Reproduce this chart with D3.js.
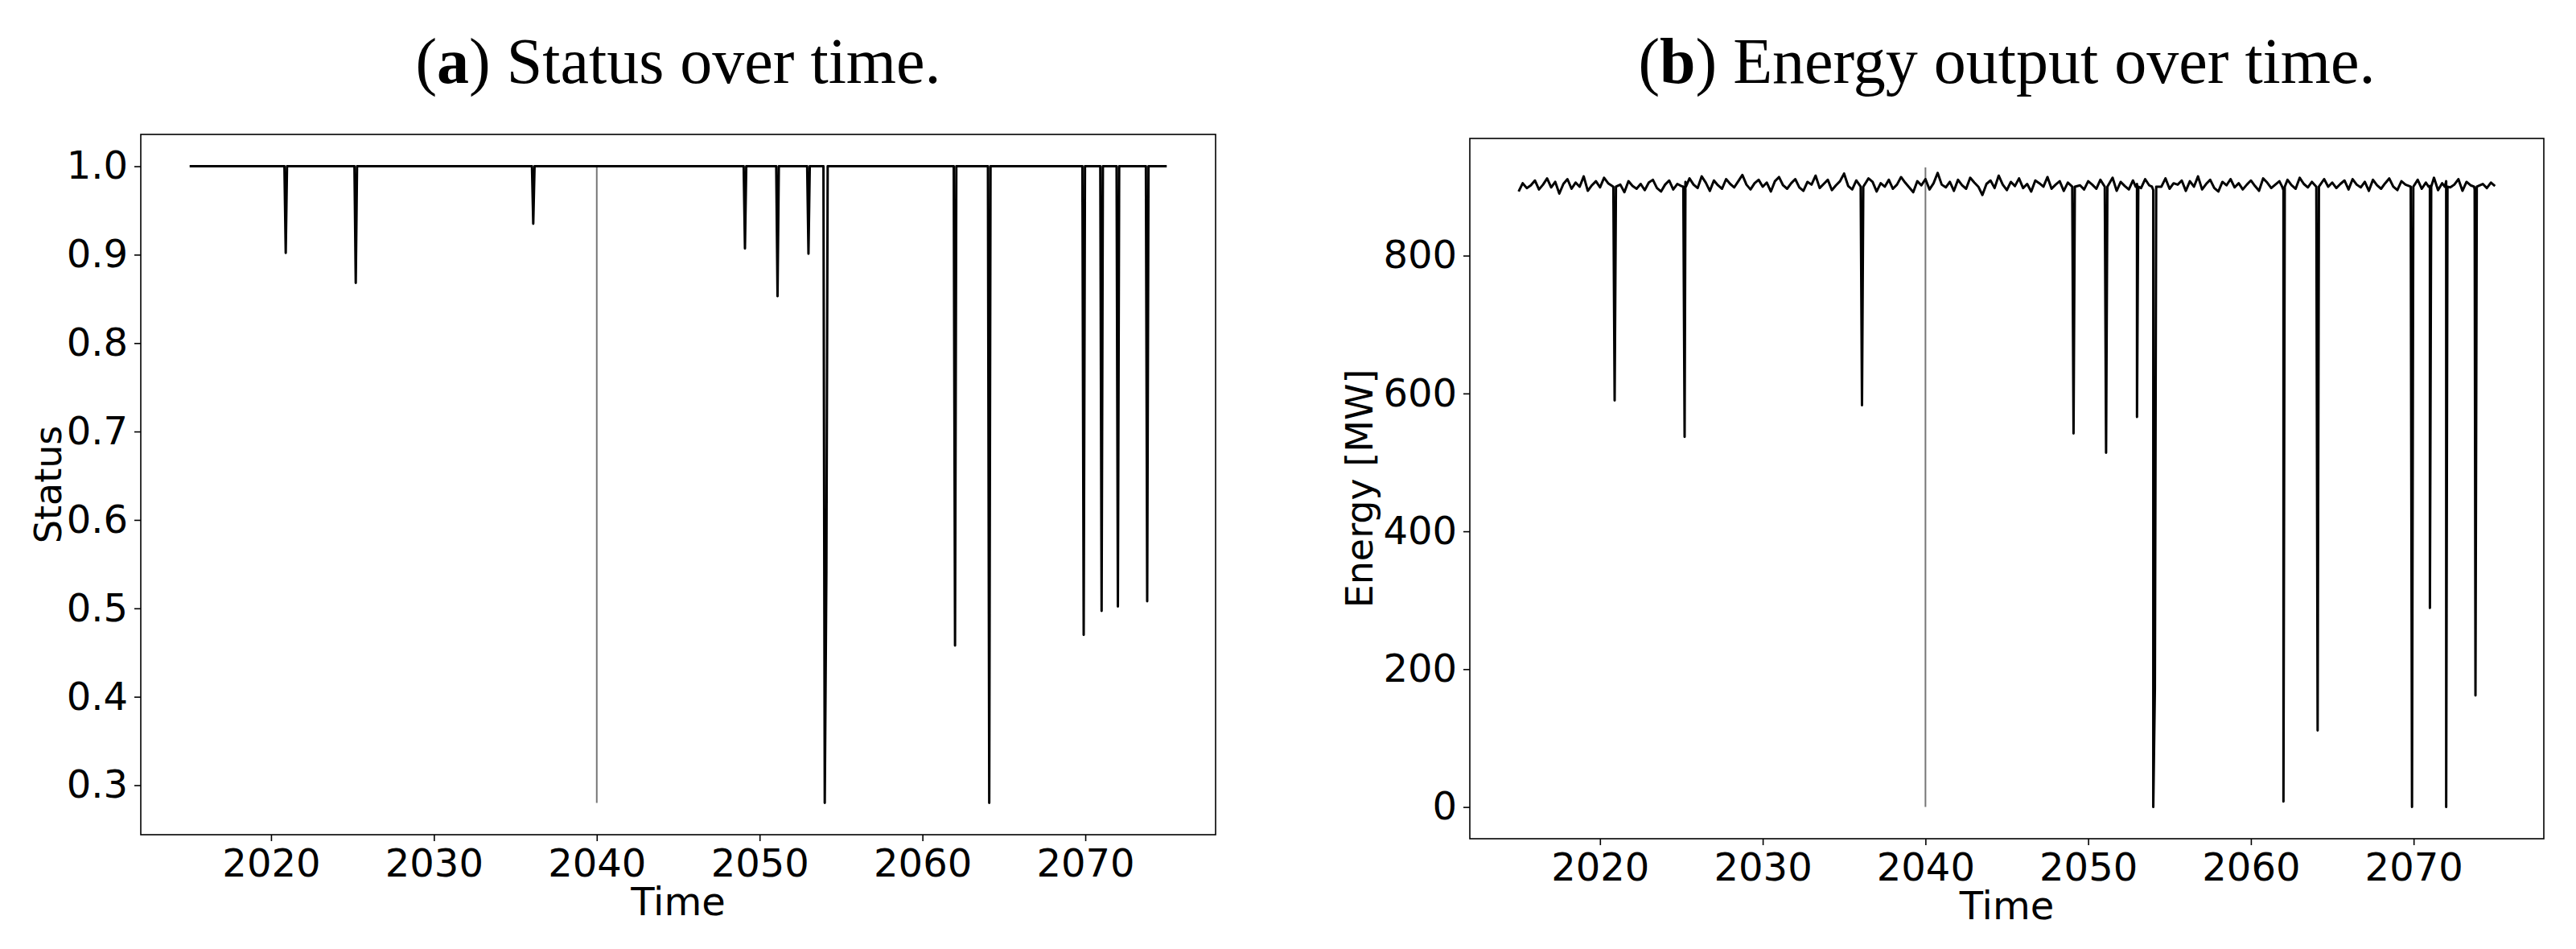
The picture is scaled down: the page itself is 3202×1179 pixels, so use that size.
<!DOCTYPE html>
<html><head><meta charset="utf-8">
<script src="https://cdn.jsdelivr.net/npm/d3@7"></script>
<style>body{margin:0;background:#fff}</style></head>
<body><svg id="c" width="3202" height="1179"></svg>
<script>
// ---- data ----
const yearStart = 2015, yearEnd = 2075;
const vlineYear = 2040;
// status outage events: [time, status]
const statusEvents = [[2020.9,0.902],[2025.2,0.868],[2036.1,0.935],[2049.1,0.907],[2051.1,0.853],[2053.0,0.901],[2054.0,0.28],[2054.1,0.542],[2062.0,0.458],[2064.1,0.28],[2069.9,0.47],[2071.0,0.497],[2072.0,0.502],[2073.8,0.508]];
// energy outage events: [time, MW]
const energyEvents = [[2020.9,590],[2025.2,537],[2036.1,583],[2049.1,542],[2051.1,514],[2053.0,566],[2054.0,0],[2054.1,173],[2062.0,8],[2064.1,111],[2069.9,0],[2071.0,289],[2072.0,0],[2073.8,162]];
// quarterly baseline energy output, 2015..2075
const energyBase = [
893,905,898,902,909,896,903,912,899,907,890,904,911,897,906,900,915,894,902,908,
899,913,905,896,921,903,892,908,901,897,904,895,906,910,898,893,903,909,896,904,
901,907,912,903,898,915,906,894,909,902,897,911,904,899,908,917,903,896,905,910,
900,906,893,908,914,902,897,905,911,899,894,907,903,916,898,904,910,895,902,908,
919,901,896,909,904,898,912,907,893,905,900,910,897,903,914,906,899,892,908,902,
911,896,905,920,903,899,907,894,910,902,897,913,906,900,888,904,909,898,916,903,
895,907,901,912,898,904,893,909,905,900,914,897,903,908,894,906,911,899,902,896,
908,903,897,910,905,899,913,894,907,901,896,909,904,898,911,902,895,906,900,912,
897,905,903,909,894,908,900,915,896,904,910,898,893,907,902,911,899,905,896,903,
909,901,894,912,906,898,903,908,895,910,902,897,913,904,899,907,893,905,911,900,
906,898,904,909,896,911,903,899,907,894,910,902,897,905,912,900,895,908,903,899,
904,910,897,906,901,913,895,905,908,899,903,911,894,907,902,896,909,904,898,906,
901];
const xTicks = [2020,2030,2040,2050,2060,2070];
const statusTicks = [0.3,0.4,0.5,0.6,0.7,0.8,0.9,1.0];
const energyTicks = [0,200,400,600,800];

// ---- build series ----
const halfW = 0.08;
const statusSeries = [[yearStart,1]];
statusEvents.forEach(([t,v],i)=>{
  const prev = statusEvents[i-1], next = statusEvents[i+1];
  if(!prev || t-prev[0]>0.3) statusSeries.push([t-halfW,1]);
  statusSeries.push([t,v]);
  if(!next || next[0]-t>0.3) statusSeries.push([t+halfW,1]);
});
statusSeries.push([yearEnd,1]);

let energySeries = energyBase.map((v,i)=>[yearStart+i*0.25,v]);
energyEvents.forEach(([t,v],i)=>{
  const prev = energyEvents[i-1], next = energyEvents[i+1];
  if(!prev || t-prev[0]>0.3) energySeries.push([t-halfW,900]);
  energySeries.push([t,v]);
  if(!next || next[0]-t>0.3) energySeries.push([t+halfW,900]);
});
energySeries.sort((a,b)=>a[0]-b[0]);
energySeries = energySeries.filter(p=>{
  const isEvent = energyEvents.some(e=>Math.abs(e[0]-p[0])<halfW+0.001);
  if(isEvent) return true;
  return !energyEvents.some(e=>Math.abs(e[0]-p[0])<0.2);
});

// ---- draw ----
const svg = d3.select("#c");
const tickFont = "'DejaVu Sans',sans-serif";

function panel(o){
  const g = svg.append("g");
  const x = d3.scaleLinear().domain([2012,2078]).range([o.left,o.right]);
  const y = d3.scaleLinear().domain(o.ydom).range([o.bottom,o.top]);
  g.append("g").attr("transform",`translate(0,${o.bottom})`)
    .call(d3.axisBottom(x).tickValues(xTicks).tickFormat(d3.format("d")).tickSize(8).tickPadding(8))
    .call(s=>{s.select(".domain").remove();s.selectAll("line").attr("stroke","#000").attr("stroke-width",1.6);
      s.selectAll("text").attr("font-family",tickFont).attr("font-size",48).attr("fill","#000").attr("dy","0.75em");});
  g.append("g").attr("transform",`translate(${o.left},0)`)
    .call(d3.axisLeft(y).tickValues(o.yticks).tickFormat(o.fmt).tickSize(8).tickPadding(8))
    .call(s=>{s.select(".domain").remove();s.selectAll("line").attr("stroke","#000").attr("stroke-width",1.6);
      s.selectAll("text").attr("font-family",tickFont).attr("font-size",48).attr("fill","#000");});
  g.append("rect").attr("x",o.left).attr("y",o.top).attr("width",o.right-o.left).attr("height",o.bottom-o.top)
    .attr("fill","none").attr("stroke","#000").attr("stroke-width",1.6);
  g.append("line").attr("x1",x(vlineYear)).attr("x2",x(vlineYear))
    .attr("y1",y(o.vmin)).attr("y2",y(o.vmax)).attr("stroke","#777").attr("stroke-width",2);
  g.append("path").datum(o.series)
    .attr("d",d3.line().x(d=>x(d[0])).y(d=>y(d[1])))
    .attr("fill","none").attr("stroke","#000").attr("stroke-width",3).attr("stroke-linejoin","round");
  const t = g.append("text").attr("x",(o.left+o.right)/2).attr("y",103).attr("text-anchor","middle")
    .attr("font-family","'Liberation Serif','DejaVu Serif',serif").attr("font-size",80).attr("fill","#000");
  t.append("tspan").text("(");
  t.append("tspan").attr("font-weight","bold").text(o.letter);
  t.append("tspan").text(") "+o.title);
  g.append("text").attr("x",(o.left+o.right)/2).attr("y",o.bottom+100).attr("text-anchor","middle")
    .attr("font-family",tickFont).attr("font-size",48).text("Time");
  g.append("text").attr("transform",`translate(${o.ylabX},${(o.top+o.bottom)/2}) rotate(-90)`)
    .attr("text-anchor","middle").attr("font-family","'DejaVu Sans',sans-serif").attr("font-size",46).text(o.ylabel);
}

panel({left:175,right:1511,top:167,bottom:1037,ydom:[0.244,1.036],yticks:statusTicks,fmt:d3.format(".1f"),
  series:statusSeries,vmin:0.28,vmax:1.0,letter:"a",title:"Status over time.",ylabel:"Status",ylabX:76});
panel({left:1827,right:3162,top:172,bottom:1042,ydom:[-46,970],yticks:energyTicks,fmt:d3.format("d"),
  series:energySeries,vmin:0,vmax:928,letter:"b",title:"Energy output over time.",ylabel:"Energy [MW]",ylabX:1706});
</script></body></html>
